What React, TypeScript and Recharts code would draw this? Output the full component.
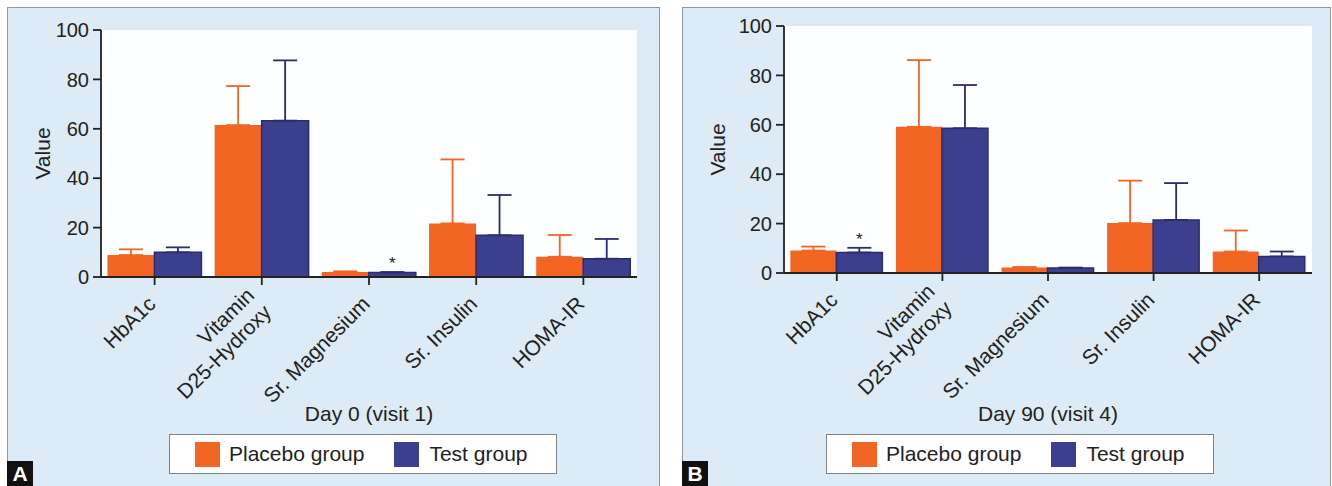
import React from "react";
import { BarChart, Bar, XAxis, YAxis, ErrorBar, CartesianGrid, Legend, Label, LabelList } from "recharts";

const categories = ["HbA1c", "Vitamin\nD25-Hydroxy", "Sr. Magnesium", "Sr. Insulin", "HOMA-IR"];
const yTicks = [0, 20, 40, 60, 80, 100];

const placeboA = [8.9, 61.5, 2.0, 21.7, 8.2];
const placeboErrA = [2.3, 15.8, 0.3, 25.9, 8.8];
const testA = [10.0, 63.3, 1.8, 16.9, 7.4];
const testErrA = [2.0, 24.4, 0.2, 16.3, 8.0];
const sigA = ["", "", "*", "", ""];

const placeboB = [9.1, 59.2, 2.2, 20.2, 8.7];
const placeboErrB = [1.6, 27.0, 0.2, 17.2, 8.5];
const testB = [8.3, 58.6, 2.0, 21.5, 6.7];
const testErrB = [1.9, 17.5, 0.2, 14.9, 2.0];
const sigB = ["*", "", "", "", ""];

const FONT = "'Liberation Sans', Arial, Helvetica, sans-serif";
const ORANGE = "#f26522";
const BLUE = "#3c3e8e";
const BLUE_DARK = "#2a2c72";
const INK = "#222";

type Row = { name: string; placebo: number; test: number; pErr: number[]; tErr: number[]; tErrVal: number; sig: string };

function buildRows(p: number[], pe: number[], t: number[], te: number[], sig: string[]): Row[] {
  return categories.map((name, i) => ({
    name,
    placebo: p[i],
    test: t[i],
    pErr: [0, pe[i]],
    tErr: [0, te[i]],
    tErrVal: te[i],
    sig: sig[i],
  }));
}

const CatTick = (props: any) => {
  const { x, y, payload } = props;
  const lines = String(payload.value).split("\n");
  const lh = 24;
  const start = -((lines.length - 1) * lh) / 2;
  return (
    <g transform={`translate(${x - 3},${y + 13}) rotate(-45)`}>
      <text textAnchor="end" fontSize={21} fill={INK} fontFamily={FONT}>
        {lines.map((l, i) => (
          <tspan key={i} x={0} y={start + i * lh} dy="0.35em">
            {l}
          </tspan>
        ))}
      </text>
    </g>
  );
};

const LegendBox = () => (
  <div
    style={{
      boxSizing: "border-box",
      width: 388,
      height: 40,
      background: "#fff",
      border: "1px solid #7d858c",
      display: "flex",
      alignItems: "center",
      fontFamily: FONT,
      fontSize: 21,
      color: INK,
    }}
  >
    <div style={{ width: 25, height: 25, background: ORANGE, marginLeft: 25 }} />
    <span style={{ marginLeft: 9 }}>Placebo group</span>
    <div style={{ width: 25, height: 25, background: BLUE, marginLeft: 30 }} />
    <span style={{ marginLeft: 10 }}>Test group</span>
  </div>
);

type PanelProps = {
  left: number;
  width: number;
  mTop: number;
  mRight: number;
  yWidth: number;
  xHeight: number;
  legendLeft: number;
  titleY: number;
  title: string;
  badge: string;
  rows: Row[];
};

const Panel = ({ left, width, mTop, mRight, yWidth, xHeight, legendLeft, titleY, title, badge, rows }: PanelProps) => {
  const height = 479;
  const starContent = (p: any) => {
    const { x, y, width: w, height: h, index } = p;
    const r = rows[index];
    if (!r || !r.sig) return null;
    const scale = h / r.test;
    const errTop = y - r.tErrVal * scale;
    return (
      <text x={x + w / 2} y={errTop - 3} textAnchor="middle" fontSize={17} fill={INK} fontFamily={FONT}>
        {r.sig}
      </text>
    );
  };
  return (
    <div
      style={{
        position: "absolute",
        left,
        top: 7,
        width,
        height: 486,
        background: "#dcebf5",
        borderLeft: "1px solid #8e99a3",
        borderTop: "1px solid #8e99a3",
        borderRight: "1px solid #8e99a3",
        boxSizing: "border-box",
      }}
    >
      <div style={{ position: "absolute", left: -1, top: -1 }}>
        <BarChart
          width={width}
          height={height}
          data={rows}
          margin={{ top: mTop, right: mRight, left: 0, bottom: 12 }}
          barCategoryGap="6%"
          barGap={0}
        >
          <CartesianGrid horizontal={false} vertical={false} fill="#fcfeff" />
          <XAxis
            dataKey="name"
            interval={0}
            height={xHeight}
            tick={<CatTick />}
            tickSize={8}
            axisLine={{ stroke: INK, strokeWidth: 1.8 }}
            tickLine={{ stroke: INK, strokeWidth: 1.8 }}
          >
            <Label
              content={(p: any) => {
                const vb = p.viewBox;
                return (
                  <text
                    x={vb.x + vb.width / 2}
                    y={titleY}
                    textAnchor="middle"
                    dominantBaseline="central"
                    fontSize={21}
                    fill={INK}
                    fontFamily={FONT}
                  >
                    {title}
                  </text>
                );
              }}
            />
          </XAxis>
          <YAxis
            domain={[0, 100]}
            ticks={yTicks}
            width={yWidth}
            tickSize={8}
            tickMargin={4}
            tick={{ fontSize: 20, fill: INK, fontFamily: FONT }}
            axisLine={{ stroke: INK, strokeWidth: 1.8 }}
            tickLine={{ stroke: INK, strokeWidth: 1.8 }}
          >
            <Label
              content={(p: any) => {
                const vb = p.viewBox;
                const cx = vb.x + 35;
                const cy = vb.y + vb.height / 2;
                return (
                  <text
                    x={cx}
                    y={cy}
                    transform={`rotate(-90 ${cx} ${cy})`}
                    textAnchor="middle"
                    dominantBaseline="central"
                    fontSize={21}
                    fill={INK}
                    fontFamily={FONT}
                  >
                    Value
                  </text>
                );
              }}
            />
          </YAxis>
          <Legend
            verticalAlign="bottom"
            content={() => <LegendBox />}
            wrapperStyle={{ left: legendLeft, bottom: 12, width: 388 }}
          />
          <Bar dataKey="placebo" name="Placebo group" fill={ORANGE} isAnimationActive={false}>
            <ErrorBar dataKey="pErr" width={12} stroke={ORANGE} strokeWidth={1.8} direction="y" />
          </Bar>
          <Bar dataKey="test" name="Test group" fill={BLUE} stroke={BLUE_DARK} strokeWidth={1.5} isAnimationActive={false}>
            <ErrorBar dataKey="tErr" width={12} stroke={BLUE_DARK} strokeWidth={1.8} direction="y" />
            <LabelList dataKey="sig" content={starContent} />
          </Bar>
        </BarChart>
      </div>
      <div
        style={{
          position: "absolute",
          left: -1,
          top: 453,
          width: 26,
          height: 26,
          background: "#111",
          color: "#fff",
          fontFamily: FONT,
          fontWeight: "bold",
          fontSize: 21,
          lineHeight: "26px",
          textAlign: "center",
        }}
      >
        {badge}
      </div>
    </div>
  );
};

export default function App() {
  const rowsA = buildRows(placeboA, placeboErrA, testA, testErrA, sigA);
  const rowsB = buildRows(placeboB, placeboErrB, testB, testErrB, sigB);
  return (
    <div style={{ position: "absolute", left: 0, top: 0, width: 1332, height: 486, background: "#fff", overflow: "hidden" }}>
      <Panel
        left={7}
        width={653}
        mTop={23}
        mRight={23}
        yWidth={94}
        xHeight={157}
        legendLeft={162}
        titleY={406}
        title="Day 0 (visit 1)"
        badge="A"
        rows={rowsA}
      />
      <Panel
        left={682}
        width={649}
        mTop={19}
        mRight={19}
        yWidth={102}
        xHeight={161}
        legendLeft={144}
        titleY={406}
        title="Day 90 (visit 4)"
        badge="B"
        rows={rowsB}
      />
    </div>
  );
}
